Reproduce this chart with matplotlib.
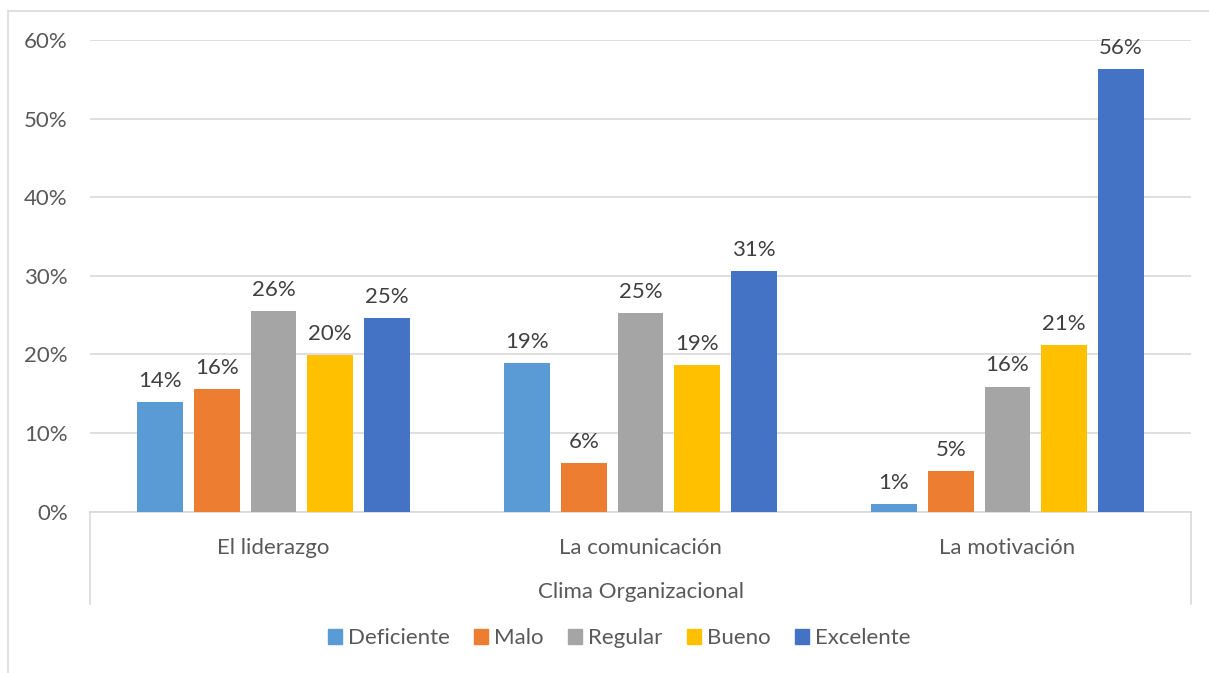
import matplotlib
matplotlib.use("Agg")
import matplotlib.pyplot as plt
import numpy as np
from matplotlib.lines import Line2D
from matplotlib.patches import Rectangle

plt.rcParams["font.family"] = ["Lato", "DejaVu Sans"]

categories = ["El liderazgo", "La comunicación", "La motivación"]
series_names = ["Deficiente", "Malo", "Regular", "Bueno", "Excelente"]
deficiente = [13.9, 18.9, 0.9]
malo = [15.6, 6.2, 5.2]
regular = [25.5, 25.2, 15.9]
bueno = [19.9, 18.6, 21.2]
excelente = [24.6, 30.6, 56.3]
axis_title = "Clima Organizacional"

colors = ["#5B9BD5", "#ED7D31", "#A5A5A5", "#FFC000", "#4472C4"]
series = [deficiente, malo, regular, bueno, excelente]
FS = 16

W, H = 1209, 673
fig = plt.figure(figsize=(W / 100, H / 100), dpi=100)

# outer chart frame (left + top visible)
fig.add_artist(Line2D([8 / W, 8 / W], [0, 1 - 11 / H], color="#D9D9D9", lw=1.2))
fig.add_artist(Line2D([8 / W, 1], [1 - 11 / H, 1 - 11 / H], color="#D9D9D9", lw=1.2))

left, right, top, bottom = 90, 1191, 40, 511.5
ax = fig.add_axes([left / W, 1 - bottom / H, (right - left) / W, (bottom - top) / H])

x = np.arange(len(categories))
step = 0.1547
width = 0.125
for i, (name, vals, c) in enumerate(zip(series_names, series, colors)):
    offs = (i - 2) * step
    bars = ax.bar(x + offs, vals, width, color=c, label=name, zorder=3)
    ax.bar_label(bars, labels=[f"{round(v):.0f}%" for v in vals], padding=8,
                 fontsize=FS, color="#404040")

ax.set_xlim(-0.5, 2.5)
ax.set_ylim(0, 60)
ax.set_yticks(range(0, 61, 10))
ax.set_yticklabels([f"{v}%" for v in range(0, 61, 10)], fontsize=FS, color="#595959")
ax.tick_params(axis="y", length=0, pad=16)
ax.set_xticks(x)
ax.set_xticklabels(categories, fontsize=FS, color="#595959")
ax.tick_params(axis="x", length=0, pad=19)
ax.set_xlabel(axis_title, fontsize=FS, color="#595959", labelpad=17)
ax.grid(axis="y", color="#D9D9D9", lw=1.2, zorder=0)
for s in ["left", "right", "top"]:
    ax.spines[s].set_visible(False)
ax.spines["bottom"].set_color("#D9D9D9")
ax.spines["bottom"].set_linewidth(1.2)

# category axis side lines
for xf in [left / W, right / W]:
    fig.add_artist(Line2D([xf, xf], [1 - 604 / H, 1 - bottom / H], color="#D9D9D9", lw=1.2))

handles = [Rectangle((0, 0), 1, 1, color=c) for c in colors]
fig.legend(handles, series_names, loc="center", bbox_to_anchor=(619 / W, 1 - 638 / H),
           ncol=5, frameon=False, fontsize=FS, handlelength=0.65, handleheight=0.65,
           handletextpad=0.25, columnspacing=1.1, labelcolor="#595959")

fig.savefig("out.png", dpi=100)
